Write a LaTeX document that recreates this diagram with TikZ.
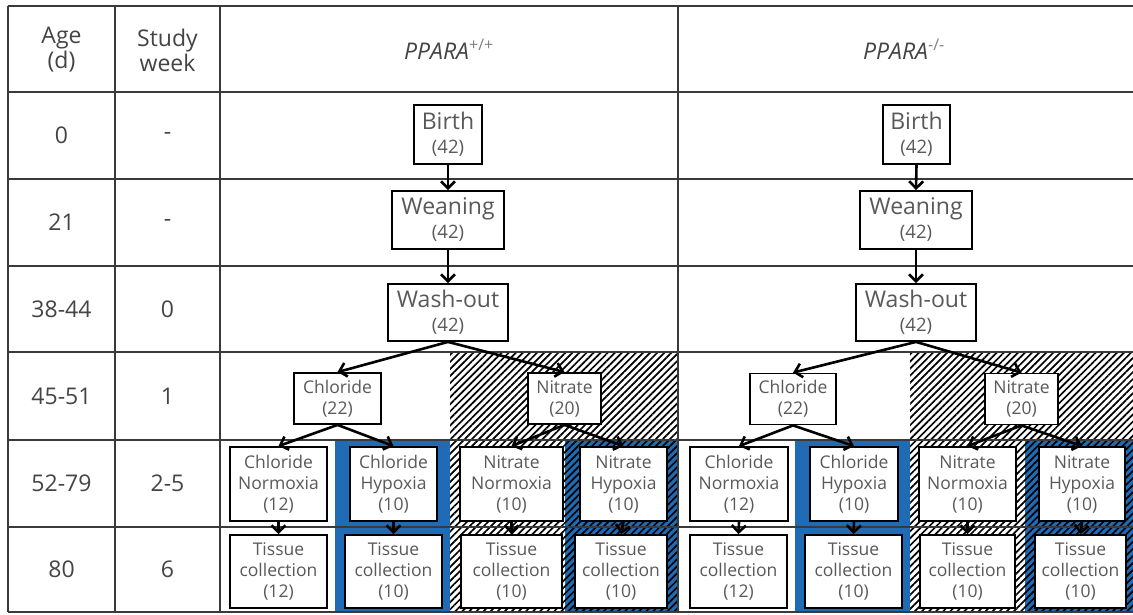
\documentclass[tikz,border=0pt]{standalone}
\usepackage{fontspec}
\setmainfont{Open Sans}
\usetikzlibrary{arrows.meta,patterns.meta}
\definecolor{gridc}{HTML}{3A3A3A}
\definecolor{txt}{HTML}{444444}
\definecolor{btxt}{HTML}{595959}
\definecolor{hblue}{HTML}{1F6BB5}
\begin{document}
\begin{tikzpicture}[x=1pt,y=-1pt,
  grid/.style={draw=gridc,line width=1.4pt},
  lbl/.style={text=txt,font=\fontsize{23}{25}\selectfont,align=center,inner sep=0pt},
  bigbox/.style={draw=black,line width=1.8pt,fill=white,text=btxt,align=center,inner sep=0pt,font=\fontsize{18.5}{24}\selectfont},
  midbox/.style={draw=black,line width=1.8pt,fill=white,text=btxt,align=center,inner sep=0pt,font=\fontsize{17.5}{21}\selectfont},
  arr/.style={-{Straight Barb[length=7pt,width=14pt]},line width=2.6pt,black},
  hatch/.style={pattern={Lines[angle=45,distance=5pt,line width=1.7pt]},pattern color=black},
]
\useasboundingbox (0,0) rectangle (1133,614);
\fill[white] (0,0) rectangle (1133,614);

% fills
\fill[hblue] (335,440) rectangle (450,612);
\fill[hblue] (565,440) rectangle (678,612);
\fill[hatch] (450,352) rectangle (678,612);
\fill[hblue] (795,440) rectangle (910,612);
\fill[hblue] (1025,440) rectangle (1133,612);
\fill[hatch] (910,352) rectangle (1133,612);

% grid
\foreach \y in {6,92,179,266,352,440,527,612} \draw[grid] (8,\y) -- (1133,\y);
\foreach \x in {8,115,220,678} \draw[grid] (\x,6) -- (\x,612);

% table labels
\node[lbl] (hage) at (61.5,50) {Age\\(d)};
\node[lbl] (hweek) at (167.5,50) {Study\\week};
\node[lbl] (hwt) at (449,49) {\textit{PPARA}\textsuperscript{\color{gray}+/+}};
\node[lbl] (hko) at (904,49) {\textit{PPARA}\textsuperscript{\color{gray}-/-}};
\node[lbl] (a1) at (61.5,135.5) {0};
\node[lbl] (a2) at (61.5,222.5) {21};
\node[lbl] (a3) at (61.5,309) {38-44};
\node[lbl] (a4) at (61.5,396) {45-51};
\node[lbl] (a5) at (61.5,483.5) {52-79};
\node[lbl] (a6) at (61.5,569.5) {80};
\node[lbl] (w1) at (167.5,135.5) {-};
\node[lbl] (w2) at (167.5,222.5) {-};
\node[lbl] (w3) at (167.5,309) {0};
\node[lbl] (w4) at (167.5,396) {1};
\node[lbl] (w5) at (167.5,483.5) {2-5};
\node[lbl] (w6) at (167.5,569.5) {6};

% left tree
\node[bigbox,minimum width=68,minimum height=59] (birthL) at (448,134.5) {{\fontsize{23}{24}\selectfont Birth}\\(42)};
\node[bigbox,minimum width=112,minimum height=58] (weanL) at (448,220) {{\fontsize{23}{24}\selectfont Weaning}\\(42)};
\node[bigbox,minimum width=120,minimum height=57] (washL) at (448,312.5) {{\fontsize{23}{24}\selectfont Wash-out}\\(42)};
\node[midbox,minimum width=87,minimum height=51] (chlL) at (337.5,398.5) {Chloride\\(22)};
\node[midbox,minimum width=73,minimum height=51] (nitL) at (564.5,398.5) {Nitrate\\(20)};
\node[midbox,minimum width=97,minimum height=74] (chlnL) at (278.5,484) {Chloride\\Normoxia\\(12)};
\node[midbox,minimum width=87,minimum height=74] (chlhL) at (393.5,484) {Chloride\\Hypoxia\\(10)};
\node[midbox,minimum width=103,minimum height=74] (nitnL) at (511.5,484) {Nitrate\\Normoxia\\(10)};
\node[midbox,minimum width=87,minimum height=74] (nithL) at (623.5,484) {Nitrate\\Hypoxia\\(10)};
\node[midbox,minimum width=97,minimum height=73] (tcnL) at (278.5,571.5) {Tissue\\collection\\(12)};
\node[midbox,minimum width=97,minimum height=73] (tchL) at (393.5,571.5) {Tissue\\collection\\(10)};
\node[midbox,minimum width=101,minimum height=73] (tnnL) at (511.5,571.5) {Tissue\\collection\\(10)};
\node[midbox,minimum width=92,minimum height=73] (tnhL) at (621,571.5) {Tissue\\collection\\(10)};

% right tree
\node[bigbox,minimum width=67,minimum height=59] (birthR) at (916.5,134.5) {{\fontsize{23}{24}\selectfont Birth}\\(42)};
\node[bigbox,minimum width=112,minimum height=58] (weanR) at (916,220) {{\fontsize{23}{24}\selectfont Weaning}\\(42)};
\node[bigbox,minimum width=120,minimum height=57] (washR) at (916,312.5) {{\fontsize{23}{24}\selectfont Wash-out}\\(42)};
\node[midbox,minimum width=86,minimum height=51] (chlR) at (793,399) {Chloride\\(22)};
\node[midbox,minimum width=73,minimum height=51] (nitR) at (1021.5,399) {Nitrate\\(20)};
\node[midbox,minimum width=98,minimum height=74] (chlnR) at (739,484) {Chloride\\Normoxia\\(12)};
\node[midbox,minimum width=88,minimum height=74] (chlhR) at (854,484) {Chloride\\Hypoxia\\(10)};
\node[midbox,minimum width=97,minimum height=74] (nitnR) at (967.5,484) {Nitrate\\Normoxia\\(10)};
\node[midbox,minimum width=86,minimum height=74] (nithR) at (1082,484) {Nitrate\\Hypoxia\\(10)};
\node[midbox,minimum width=97,minimum height=73] (tcnR) at (738.5,571.5) {Tissue\\collection\\(12)};
\node[midbox,minimum width=97,minimum height=73] (tchR) at (853.5,571.5) {Tissue\\collection\\(10)};
\node[midbox,minimum width=95,minimum height=73] (tnnR) at (967.5,571.5) {Tissue\\collection\\(10)};
\node[midbox,minimum width=91,minimum height=73] (tnhR) at (1080.5,571.5) {Tissue\\collection\\(10)};

% arrows
\foreach \s in {L,R} {
  \draw[arr] (birth\s.south) -- (wean\s.north);
  \draw[arr] (wean\s.south) -- (wash\s.north);
  \draw[arr] (wash\s.south) -- (chl\s.north);
  \draw[arr] (wash\s.south) -- (nit\s.north);
  \draw[arr] (chl\s.south) -- (chln\s.north);
  \draw[arr] (chl\s.south) -- (chlh\s.north);
  \draw[arr] (nit\s.south) -- (nitn\s.north);
  \draw[arr] (nit\s.south) -- (nith\s.north);
  \draw[arr] (chln\s.south) -- (tcn\s.north);
  \draw[arr] (chlh\s.south) -- (tch\s.north);
  \draw[arr] (nitn\s.south) -- (tnn\s.north);
  \draw[arr] (nith\s.south) -- (tnh\s.north);
}
\end{tikzpicture}
\end{document}
